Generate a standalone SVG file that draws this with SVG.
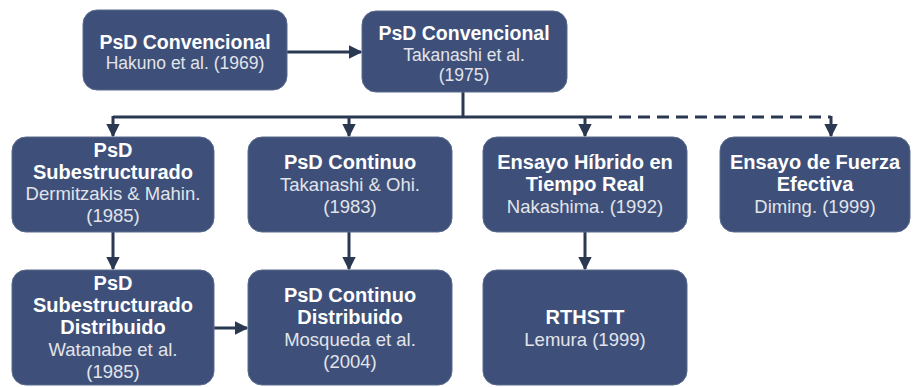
<svg xmlns="http://www.w3.org/2000/svg" width="915" height="387" viewBox="0 0 915 387">
  <style>
    .box { fill: #3e5079; stroke: #5a6a8c; stroke-width: 1; }
    .t { font-family: "Liberation Sans", Arial, sans-serif; font-weight: bold; font-size: 19.5px; fill: #ffffff; text-anchor: middle; }
    .s { font-family: "Liberation Sans", Arial, sans-serif; font-size: 17.5px; fill: #e2e4ea; text-anchor: middle; }
    .lower .t { font-size: 20px; }
    .lower .s { font-size: 18.5px; }
    .link { fill: none; stroke: #2a3852; stroke-width: 3; }
    .dash { stroke-dasharray: 12 7; }
  </style>
  <defs>
    <marker id="arrow" viewBox="0 0 10 10" refX="9" refY="5" markerWidth="4.5" markerHeight="4.5" orient="auto" markerUnits="strokeWidth">
      <path d="M0,0 L10,5 L0,10 Z" fill="#2a3852"/>
    </marker>
  </defs>
  <rect width="915" height="387" fill="#ffffff"/>

  <g id="connectors">
    <line class="link" x1="287" y1="52" x2="361" y2="52" marker-end="url(#arrow)"/>
    <line class="link" x1="463" y1="92" x2="463" y2="117"/>
    <line class="link" x1="113" y1="117" x2="600" y2="117"/>
    <line class="link dash" x1="600" y1="117" x2="831" y2="117"/>
    <line class="link" x1="113" y1="116" x2="113" y2="136" marker-end="url(#arrow)"/>
    <line class="link" x1="349" y1="117" x2="349" y2="136" marker-end="url(#arrow)"/>
    <line class="link" x1="585" y1="117" x2="585" y2="136" marker-end="url(#arrow)"/>
    <line class="link" x1="831" y1="116" x2="831" y2="136" marker-end="url(#arrow)"/>
    <line class="link" x1="113" y1="232" x2="113" y2="269" marker-end="url(#arrow)"/>
    <line class="link" x1="349" y1="232" x2="349" y2="269" marker-end="url(#arrow)"/>
    <line class="link" x1="585" y1="232" x2="585" y2="269" marker-end="url(#arrow)"/>
    <line class="link" x1="214" y1="328" x2="247" y2="328" marker-end="url(#arrow)"/>
  </g>

  <g id="psd-hakuno">
    <rect class="box" x="83" y="10" width="204" height="80" rx="14"/>
    <text class="t" x="185" y="49">PsD Convencional</text>
    <text class="s" x="185" y="69">Hakuno et al. (1969)</text>
  </g>

  <g id="psd-takanashi">
    <rect class="box" x="362" y="11" width="205" height="81" rx="14"/>
    <text class="t" x="464" y="40">PsD Convencional</text>
    <text class="s" x="464" y="61">Takanashi et al.</text>
    <text class="s" x="464" y="81">(1975)</text>
  </g>

  <g class="lower">
    <g id="psd-subestructurado">
      <rect class="box" x="12" y="137" width="202" height="95" rx="14"/>
      <text class="t" x="113" y="157">PsD</text>
      <text class="t" x="113" y="179">Subestructurado</text>
      <text class="s" x="113" y="200">Dermitzakis &amp; Mahin.</text>
      <text class="s" x="113" y="222">(1985)</text>
    </g>

    <g id="psd-continuo">
      <rect class="box" x="248" y="137" width="204" height="95" rx="14"/>
      <text class="t" x="350" y="169">PsD Continuo</text>
      <text class="s" x="350" y="191">Takanashi &amp; Ohi.</text>
      <text class="s" x="350" y="213">(1983)</text>
    </g>

    <g id="ensayo-hibrido">
      <rect class="box" x="483" y="137" width="204" height="95" rx="14"/>
      <text class="t" x="585" y="169">Ensayo Híbrido en</text>
      <text class="t" x="585" y="191">Tiempo Real</text>
      <text class="s" x="585" y="213">Nakashima. (1992)</text>
    </g>

    <g id="ensayo-fuerza">
      <rect class="box" x="720" y="137" width="190" height="95" rx="14"/>
      <text class="t" x="815" y="169">Ensayo de Fuerza</text>
      <text class="t" x="815" y="191">Efectiva</text>
      <text class="s" x="815" y="213">Diming. (1999)</text>
    </g>

    <g id="psd-subestructurado-distribuido">
      <rect class="box" x="12" y="270" width="202" height="115" rx="14"/>
      <text class="t" x="113" y="290">PsD</text>
      <text class="t" x="113" y="312">Subestructurado</text>
      <text class="t" x="113" y="334">Distribuido</text>
      <text class="s" x="113" y="356">Watanabe et al.</text>
      <text class="s" x="113" y="378">(1985)</text>
    </g>

    <g id="psd-continuo-distribuido">
      <rect class="box" x="248" y="270" width="204" height="115" rx="14"/>
      <text class="t" x="350" y="302">PsD Continuo</text>
      <text class="t" x="350" y="324">Distribuido</text>
      <text class="s" x="350" y="346">Mosqueda et al.</text>
      <text class="s" x="350" y="368">(2004)</text>
    </g>

    <g id="rthstt">
      <rect class="box" x="483" y="270" width="204" height="115" rx="14"/>
      <text class="t" x="585" y="324">RTHSTT</text>
      <text class="s" x="585" y="346">Lemura (1999)</text>
    </g>
  </g>
</svg>
